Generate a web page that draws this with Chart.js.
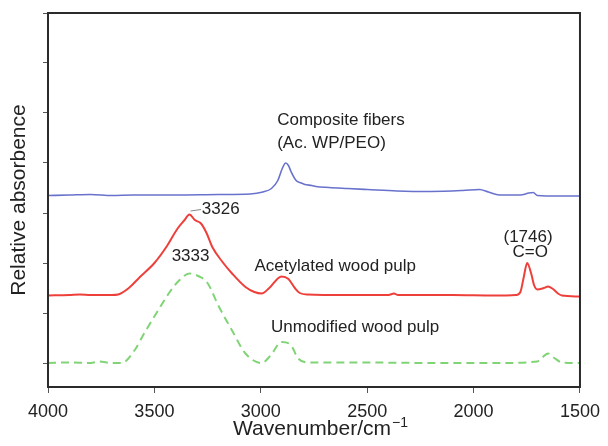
<!DOCTYPE html>
<html>
<head>
<meta charset="utf-8">
<script src="https://cdn.jsdelivr.net/npm/chart.js@4"></script>
<style>
  body { margin: 0; background: #fff; }
  #wrap { width: 608px; height: 446px; }
</style>
</head>
<body>
<div id="wrap"><canvas id="myChart" width="608" height="446"></canvas></div>
<script>
// wavenumbers (cm-1) and relative absorbance (curves already offset)
const compositeWn  = [4000, 3900, 3800, 3700, 3600, 3400, 3200, 3050, 2990, 2950, 2920, 2900, 2883, 2870, 2857, 2834, 2810, 2793, 2760, 2741, 2680, 2592, 2500, 2360, 2200, 2050, 1972, 1930, 1879, 1780, 1740, 1720, 1700, 1600, 1500];
const compositeAbs = [3.35, 3.36, 3.37, 3.35, 3.36, 3.36, 3.37, 3.38, 3.42, 3.49, 3.65, 3.88, 4.0, 3.95, 3.82, 3.65, 3.6, 3.57, 3.55, 3.53, 3.51, 3.49, 3.47, 3.44, 3.43, 3.45, 3.47, 3.42, 3.36, 3.36, 3.40, 3.41, 3.35, 3.34, 3.34];

const acetylWn  = [4000, 3900, 3850, 3800, 3750, 3700, 3670, 3620, 3568, 3500, 3444, 3391, 3360, 3335, 3310, 3281, 3255, 3228, 3180, 3135, 3072, 3030, 2996, 2960, 2903, 2870, 2840, 2817, 2780, 2600, 2400, 2374, 2355, 2100, 1900, 1800, 1780, 1765, 1748, 1730, 1715, 1700, 1670, 1650, 1630, 1600, 1585, 1500];
const acetylAbs = [1.35, 1.36, 1.37, 1.36, 1.36, 1.36, 1.37, 1.5, 1.72, 2.0, 2.32, 2.69, 2.85, 2.97, 2.86, 2.79, 2.6, 2.32, 2.02, 1.79, 1.52, 1.42, 1.39, 1.5, 1.73, 1.68, 1.5, 1.40, 1.37, 1.36, 1.36, 1.39, 1.36, 1.36, 1.35, 1.36, 1.42, 1.7, 2.0, 1.8, 1.55, 1.47, 1.5, 1.53, 1.49, 1.38, 1.35, 1.33];

const unmodWn  = [4000, 3900, 3800, 3760, 3700, 3653, 3594, 3547, 3490, 3431, 3384, 3335, 3289, 3252, 3196, 3135, 3072, 2996, 2954, 2903, 2861, 2824, 2777, 2500, 2200, 1900, 1700, 1680, 1650, 1620, 1585, 1500];
const unmodAbs = [0.0, 0.01, 0.0, 0.03, 0.0, 0.0, 0.25, 0.6, 1.0, 1.4, 1.65, 1.79, 1.73, 1.61, 1.12, 0.65, 0.19, 0.0, 0.15, 0.42, 0.37, 0.09, 0.01, 0.01, 0.0, 0.0, 0.03, 0.1, 0.19, 0.1, 0.01, 0.0];

const xTicks = [4000, 3500, 3000, 2500, 2000, 1500];
const yTicks = [0, 1, 2, 3, 4, 5, 6, 7];

// text labels: [text, wavenumber, absorbance, align]
const labels = [
    ['Composite fibers', 2923, 4.85, 'left'],
    ['(Ac. WP/PEO)', 2923, 4.39, 'left'],
    ['3326', 3277, 3.07, 'left'],
    ['3333', 3419, 2.13, 'left'],
    ['Acetylated wood pulp', 3030, 1.94, 'left'],
    ['(1746)', 1744, 2.52, 'center'],
    ['C=O', 1734, 2.22, 'center'],
    ['Unmodified wood pulp', 2952, 0.71, 'left']
];

function pts(wn, abs) {
    return wn.map((w, i) => ({ x: w, y: abs[i] }));
}

const fontFam = "'Liberation Sans', Arial, sans-serif";

const extras = {
    id: 'extras',
    afterDatasetsDraw(chart) {
        const ctx = chart.ctx;
        const a = chart.chartArea;
        const xs = chart.scales.x, ys = chart.scales.y;
        ctx.save();
        // frame
        ctx.strokeStyle = '#2b2b2b';
        ctx.lineWidth = 2;
        ctx.strokeRect(a.left, a.top, a.right - a.left, a.bottom - a.top);
        // leader line for 3326
        ctx.strokeStyle = '#888';
        ctx.lineWidth = 1;
        ctx.beginPath();
        ctx.moveTo(xs.getPixelForValue(3330), ys.getPixelForValue(3.04));
        ctx.lineTo(xs.getPixelForValue(3281), ys.getPixelForValue(3.07));
        ctx.stroke();
        // labels
        ctx.fillStyle = '#222';
        ctx.font = '17px ' + fontFam;
        ctx.textBaseline = 'middle';
        labels.forEach(l => {
            ctx.textAlign = l[3];
            ctx.fillText(l[0], xs.getPixelForValue(l[1]), ys.getPixelForValue(l[2]));
        });
        // x axis title with superscript
        const base = 'Wavenumber/cm';
        const sup = '\u22121';
        ctx.font = '21px ' + fontFam;
        const w1 = ctx.measureText(base).width;
        ctx.font = '14px ' + fontFam;
        const w2 = ctx.measureText(sup).width;
        const startX = 320 - (w1 + w2) / 2;
        ctx.textAlign = 'left';
        ctx.textBaseline = 'alphabetic';
        ctx.font = '21px ' + fontFam;
        ctx.fillText(base, startX, 435);
        ctx.font = '14px ' + fontFam;
        ctx.fillText(sup, startX + w1 + 1, 427);
        ctx.restore();
    }
};

const ctx = document.getElementById('myChart').getContext('2d');

window.myChart = new Chart(ctx, {
    type: 'line',
    data: {
        datasets: [
            {
                label: 'Composite fibers',
                data: pts(compositeWn, compositeAbs),
                borderColor: 'rgb(104, 114, 204)',
                borderWidth: 1.6,
                pointRadius: 0,
                cubicInterpolationMode: 'monotone'
            },
            {
                label: 'Acetylated wood pulp',
                data: pts(acetylWn, acetylAbs),
                borderColor: 'rgb(238, 64, 58)',
                borderWidth: 2,
                pointRadius: 0,
                cubicInterpolationMode: 'monotone'
            },
            {
                label: 'Unmodified wood pulp',
                data: pts(unmodWn, unmodAbs),
                borderColor: 'rgb(128, 212, 118)',
                borderWidth: 2,
                borderDash: [8, 5],
                pointRadius: 0,
                cubicInterpolationMode: 'monotone'
            }
        ]
    },
    options: {
        responsive: false,
        animation: false,
        layout: { padding: { top: 13, right: 24, left: 0, bottom: 0 } },
        plugins: {
            legend: { display: false },
            tooltip: { enabled: false }
        },
        scales: {
            x: {
                type: 'linear',
                reverse: true,
                min: 1500,
                max: 4000,
                afterBuildTicks: scale => { scale.ticks = xTicks.map(v => ({ value: v })); },
                afterFit: scale => { scale.height = 59; },
                border: { display: false },
                grid: { drawOnChartArea: false, drawTicks: true, tickLength: 6, color: '#555' },
                ticks: {
                    color: '#222',
                    padding: 8,
                    maxRotation: 0,
                    callback: v => String(v),
                    font: { size: 18, family: fontFam }
                }
            },
            y: {
                min: -0.48,
                max: 7,
                afterBuildTicks: scale => { scale.ticks = yTicks.map(v => ({ value: v })); },
                afterFit: scale => { scale.width = 48; },
                border: { display: false },
                grid: { drawOnChartArea: false, drawTicks: true, tickLength: 5, color: '#555' },
                ticks: { callback: () => '', padding: 0 },
                title: {
                    display: true,
                    text: 'Relative absorbence',
                    color: '#222',
                    padding: { top: 7, bottom: 0 },
                    font: { size: 21, family: fontFam }
                }
            }
        }
    },
    plugins: [extras]
});
</script>
</body>
</html>
